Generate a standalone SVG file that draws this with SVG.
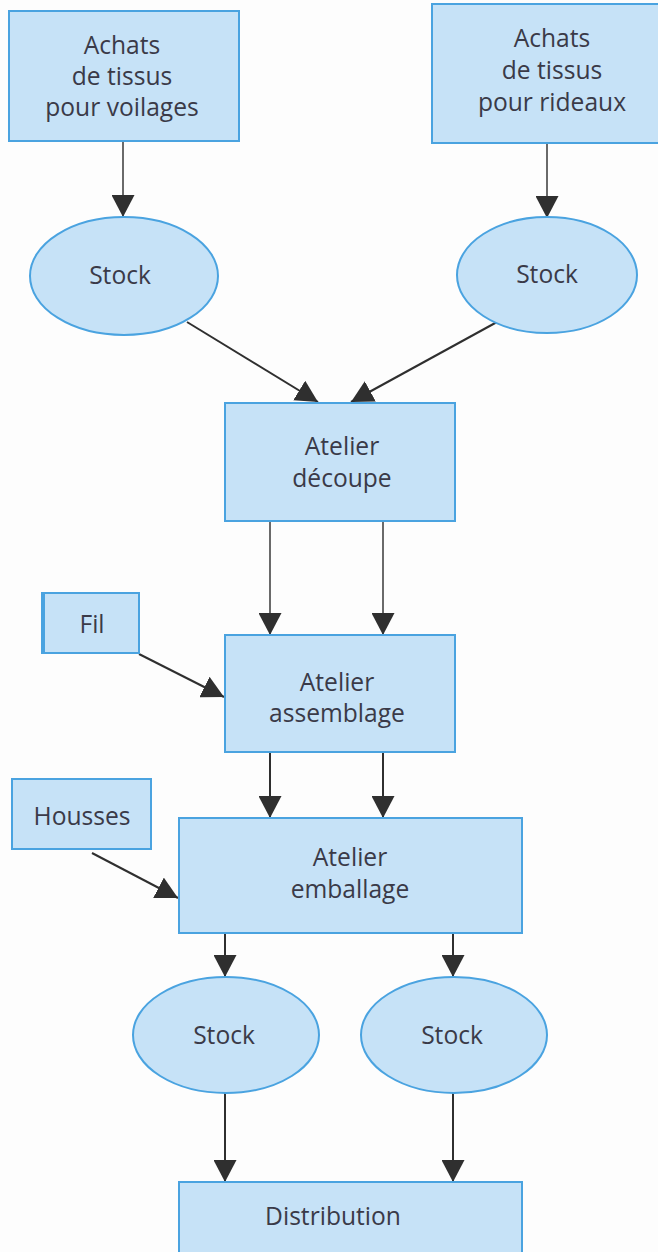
<svg xmlns="http://www.w3.org/2000/svg" width="658" height="1252" viewBox="0 0 658 1252">
  <style>
    .box { fill: #c6e2f7; stroke: #4aa3e0; stroke-width: 2; }
    .lbl { font-family: "Open Sans", "Liberation Sans", sans-serif; font-size: 24.6px; fill: #3a3a48; text-anchor: middle; }
    .edge { fill: none; stroke: #2f2f2f; stroke-width: 2; marker-end: url(#head); }
    .edge.grey { stroke: #6a6a6a; }
  </style>
  <defs>
    <marker id="head" markerUnits="userSpaceOnUse" markerWidth="23" markerHeight="23" refX="22" refY="11.5" orient="auto">
      <path d="M0,0 L22,11.5 L0,23 Z" fill="#2f2f2f"/>
    </marker>
  </defs>

  <rect width="658" height="1252" fill="#fdfdfd"/>

  <!-- connectors -->
  <g id="connectors">
    <line class="edge grey" x1="123" y1="141" x2="123" y2="217"/>
    <line class="edge grey" x1="547" y1="143" x2="547" y2="218"/>
    <line class="edge" x1="187" y1="322" x2="318" y2="402"/>
    <line class="edge" x1="497" y1="322" x2="351" y2="402"/>
    <line class="edge grey" x1="270" y1="521" x2="270" y2="635"/>
    <line class="edge grey" x1="383" y1="521" x2="383" y2="635"/>
    <line class="edge" x1="139" y1="654" x2="224" y2="697"/>
    <line class="edge" x1="270" y1="752" x2="270" y2="818"/>
    <line class="edge" x1="383" y1="752" x2="383" y2="818"/>
    <line class="edge" x1="92" y1="853" x2="178" y2="898"/>
    <line class="edge" x1="225" y1="933" x2="225" y2="977"/>
    <line class="edge" x1="453" y1="933" x2="453" y2="977"/>
    <line class="edge" x1="225" y1="1093" x2="225" y2="1182"/>
    <line class="edge" x1="453" y1="1093" x2="453" y2="1182"/>
  </g>

  <g id="achats-voilages">
    <rect class="box" x="9" y="11" width="230" height="130"/>
    <text class="lbl" x="122" y="54">Achats</text>
    <text class="lbl" x="122" y="85">de tissus</text>
    <text class="lbl" x="122" y="116">pour voilages</text>
  </g>

  <g id="achats-rideaux">
    <rect class="box" x="432" y="4" width="228" height="139"/>
    <text class="lbl" x="552" y="47">Achats</text>
    <text class="lbl" x="552" y="79">de tissus</text>
    <text class="lbl" x="552" y="111">pour rideaux</text>
  </g>

  <g id="stock-voilages">
    <ellipse class="box" cx="124" cy="276" rx="94" ry="59"/>
    <text class="lbl" x="120" y="284">Stock</text>
  </g>

  <g id="stock-rideaux">
    <ellipse class="box" cx="547" cy="275" rx="90" ry="58"/>
    <text class="lbl" x="547" y="283">Stock</text>
  </g>

  <g id="atelier-decoupe">
    <rect class="box" x="225" y="403" width="230" height="118"/>
    <text class="lbl" x="342" y="455">Atelier</text>
    <text class="lbl" x="342" y="487">découpe</text>
  </g>

  <g id="fil">
    <rect class="box" x="42" y="593" width="97" height="60"/>
    <line x1="43" y1="593" x2="43" y2="653" stroke="#4aa3e0" stroke-width="4"/>
    <text class="lbl" x="92" y="633">Fil</text>
  </g>

  <g id="atelier-assemblage">
    <rect class="box" x="225" y="635" width="230" height="117"/>
    <text class="lbl" x="337" y="691">Atelier</text>
    <text class="lbl" x="337" y="722">assemblage</text>
  </g>

  <g id="housses">
    <rect class="box" x="12" y="779" width="139" height="70"/>
    <text class="lbl" x="82" y="825">Housses</text>
  </g>

  <g id="atelier-emballage">
    <rect class="box" x="179" y="818" width="343" height="115"/>
    <text class="lbl" x="350" y="866">Atelier</text>
    <text class="lbl" x="350" y="898">emballage</text>
  </g>

  <g id="stock-sortie-1">
    <ellipse class="box" cx="226" cy="1035" rx="93" ry="58"/>
    <text class="lbl" x="224" y="1044">Stock</text>
  </g>

  <g id="stock-sortie-2">
    <ellipse class="box" cx="454" cy="1035" rx="93" ry="58"/>
    <text class="lbl" x="452" y="1044">Stock</text>
  </g>

  <g id="distribution">
    <rect class="box" x="179" y="1182" width="343" height="80"/>
    <text class="lbl" x="333" y="1225">Distribution</text>
  </g>
</svg>
